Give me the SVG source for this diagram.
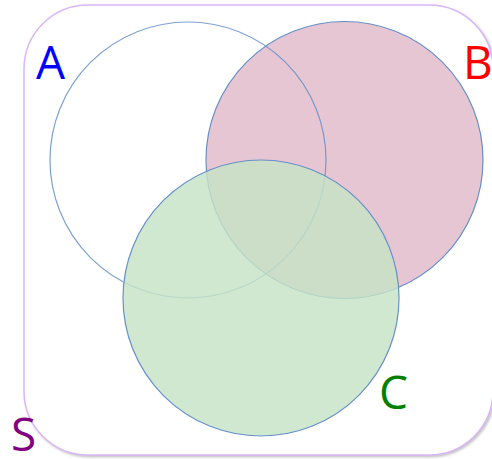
<svg xmlns="http://www.w3.org/2000/svg" width="492" height="459" viewBox="0 0 492 459">
<defs>
<filter id="sh" x="-10%" y="-10%" width="120%" height="120%">
<feDropShadow dx="1.5" dy="1.5" stdDeviation="1.2" flood-color="#999" flood-opacity="0.6"/>
</filter>
</defs>
<style>
.lbl{font-family:"Open Sans","Liberation Sans",sans-serif;font-size:46px}
.circ{stroke:#6690c8;stroke-width:1.2}
</style>
<rect id="S" x="24" y="5" width="469" height="450" rx="64" ry="64" fill="#fff" stroke="#dcb6f6" stroke-width="1.5" filter="url(#sh)"/>
<g id="B"><circle class="circ" cx="344.5" cy="160" r="138.5" fill="#e6c4d2" fill-opacity="0.97"/></g>
<g id="A"><circle class="circ" cx="188" cy="160" r="138" fill="none" stroke-opacity="0.85"/></g>
<g id="C"><circle class="circ" cx="261" cy="298" r="138" fill="#c6e3c6" fill-opacity="0.82"/></g>
<g id="labels">
<text class="lbl" x="36" y="79" fill="#0000ff">A</text>
<text class="lbl" x="463" y="79" fill="#ff0000">B</text>
<text class="lbl" x="379" y="409" fill="#008000">C</text>
<text class="lbl" x="11" y="451" fill="#800080">S</text>
</g>
</svg>
